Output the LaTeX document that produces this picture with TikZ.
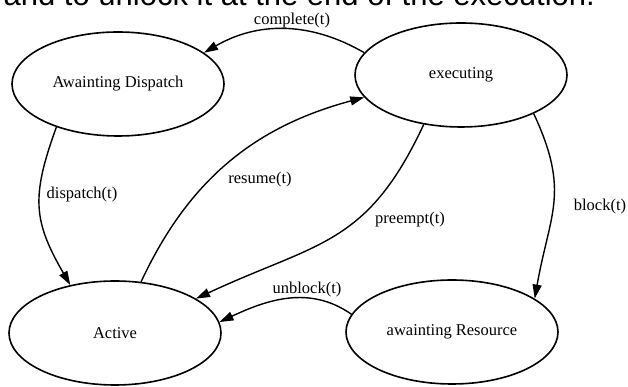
\documentclass[tikz,border=0pt]{standalone}
\usepackage{fontspec}
\setmainfont{Liberation Serif}
\newfontfamily\introfont{Liberation Sans}
\usetikzlibrary{shapes.geometric,arrows.meta}

\begin{document}
\begin{tikzpicture}[x=1pt,y=1pt,line width=1.4pt,
  state/.style={ellipse,draw,line width=1.6pt,minimum width=212pt,minimum height=104pt,inner sep=0pt,font=\fontsize{16.5}{18}\selectfont},
  lbl/.style={inner sep=0pt,font=\fontsize{16.5}{18}\selectfont},
  trans/.style={-{Triangle[length=14pt,width=9pt]}}]
%\draw[gray!30,step=20] (0,0) grid (628,387);
\useasboundingbox (0,0) rectangle (628,387);
\clip (0,0) rectangle (628,387);
\node[anchor=base west,inner sep=0pt,font=\introfont\fontsize{31}{33}\selectfont] (intro) at (3,381) {and to unlock it at the end of the execution.};
\node[state] (disp) at (118,303) {Awainting Dispatch};
\node[state] (exec) at (461,312) {executing};
\node[state] (act) at (115,54) {Active};
\node[state] (res) at (452,55) {awainting Resource};
\draw[trans] (exec.167) to[out=150,in=30] (disp.20);
\draw[trans] (disp.215) to[out=250,in=120,looseness=1.2] (act.133);
\draw[trans] (act.63) to[out=65,in=195] (exec.193);
\draw[trans] (exec.233) to[out=245,in=25,looseness=1.2] (act.23);
\draw[trans] (exec.332) to[out=295,in=80,looseness=1.2] (res.22);
\draw[trans] (res.170) to[out=145,in=25] (act.6);
\foreach \n/\p/\t in {lcomplete/{292,366}/complete(t), ldispatch/{82,192}/dispatch(t),
  lresume/{260,207}/resume(t), lpreempt/{410,167}/preempt(t),
  lunblock/{307,97}/unblock(t), lblock/{600,180}/block(t)}
  \node[lbl] (\n) at (\p) {\t};
\end{tikzpicture}
\end{document}
